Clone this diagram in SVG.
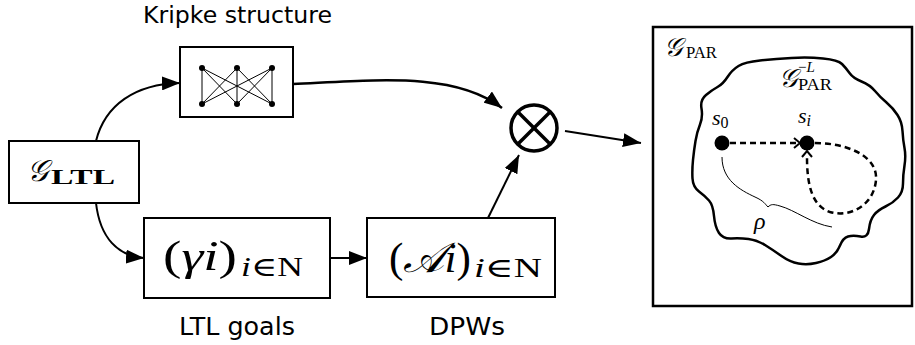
<svg xmlns="http://www.w3.org/2000/svg" width="915" height="345" viewBox="0 0 915 345">
<style>
.box{fill:#fff;stroke:#000;stroke-width:2}
.ln{fill:none;stroke:#000;stroke-width:2}
.sans{font-family:"DejaVu Sans",sans-serif;fill:#000}
.math{font-family:"Liberation Serif","DejaVu Serif",serif;fill:#000}
.it{font-style:italic}
.dash{fill:none;stroke:#000;stroke-width:2.5;stroke-dasharray:6 4}
.kl{stroke:#000;stroke-width:1}
</style>
<defs>
<marker id="ah" markerUnits="userSpaceOnUse" markerWidth="18" markerHeight="14" refX="18" refY="7" orient="auto">
<path d="M0,0 L18,7 L0,14 z" fill="#000"/>
</marker>
</defs>
<rect width="915" height="345" fill="#fff"/>
<g id="connectors">
<path class="ln" d="M96,141 C105,105 135,84 180,83" marker-end="url(#ah)"/>
<path class="ln" d="M96,203 C100,238 118,256 144,258" marker-end="url(#ah)"/>
<path class="ln" d="M330,258 L367,258" marker-end="url(#ah)"/>
<path class="ln" style="stroke-width:2.5" d="M293,84 C380,80 455,72 502,108" marker-end="url(#ah)"/>
<path class="ln" d="M488,218 L519,155" marker-end="url(#ah)"/>
<path class="ln" d="M565,131 L641,143" marker-end="url(#ah)"/>
</g>
<g id="kripke">
<text class="sans" x="237.5" y="23" font-size="23" text-anchor="middle" textLength="189" lengthAdjust="spacingAndGlyphs">Kripke structure</text>
<rect class="box" x="180" y="47" width="113" height="70"/>
<g class="kl">
<line x1="202" y1="68" x2="202" y2="104"/><line x1="202" y1="68" x2="237" y2="104"/><line x1="202" y1="68" x2="272" y2="104"/>
<line x1="237" y1="68" x2="202" y2="104"/><line x1="237" y1="68" x2="237" y2="104"/><line x1="237" y1="68" x2="272" y2="104"/>
<line x1="272" y1="68" x2="202" y2="104"/><line x1="272" y1="68" x2="237" y2="104"/><line x1="272" y1="68" x2="272" y2="104"/>
</g>
<g fill="#000">
<circle cx="202" cy="68" r="3"/><circle cx="237" cy="68" r="3"/><circle cx="272" cy="68" r="3"/>
<circle cx="202" cy="104" r="3"/><circle cx="237" cy="104" r="3"/><circle cx="272" cy="104" r="3"/>
</g>
</g>
<g id="gltl">
<rect class="box" x="9" y="141" width="130" height="62"/>
<text class="math it" x="27" y="181" font-size="30">𝒢</text>
<text class="math" x="51" y="184" font-size="22" font-weight="bold" textLength="64" lengthAdjust="spacingAndGlyphs">LTL</text>
</g>
<g id="goals">
<rect class="box" x="144" y="218" width="186" height="80"/>
<text class="math" x="163" y="270" font-size="42" textLength="74" lengthAdjust="spacingAndGlyphs">(<tspan class="it">γi</tspan>)</text>
<text class="math" x="241" y="276" font-size="27" textLength="62" lengthAdjust="spacingAndGlyphs"><tspan class="it">i</tspan>∈N</text>
<text class="sans" x="237" y="335" font-size="24" text-anchor="middle" textLength="116" lengthAdjust="spacingAndGlyphs">LTL goals</text>
</g>
<g id="dpws">
<rect class="box" x="367" y="218" width="188" height="79"/>
<text class="math" x="389" y="272" font-size="42" textLength="82" lengthAdjust="spacingAndGlyphs">(<tspan class="it">𝒜i</tspan>)</text>
<text class="math" x="474" y="277" font-size="27" textLength="68" lengthAdjust="spacingAndGlyphs"><tspan class="it">i</tspan>∈N</text>
<text class="sans" x="467" y="335" font-size="24" text-anchor="middle" textLength="76" lengthAdjust="spacingAndGlyphs">DPWs</text>
</g>
<g id="product">
<circle cx="534" cy="128" r="23" fill="#fff" stroke="#000" stroke-width="3.5"/>
<line x1="517.7" y1="111.7" x2="550.3" y2="144.3" stroke="#000" stroke-width="3.5"/>
<line x1="550.3" y1="111.7" x2="517.7" y2="144.3" stroke="#000" stroke-width="3.5"/>
</g>
<g id="gpar">
<rect x="653" y="27" width="259" height="279" fill="none" stroke="#000" stroke-width="2.5"/>
<text class="math it" x="664" y="56" font-size="26">𝒢</text>
<text class="math" x="686" y="58" font-size="17" textLength="31" lengthAdjust="spacingAndGlyphs">PAR</text>
<path fill="none" stroke="#000" stroke-width="2.5" d="M706,95 Q712,90 717.5,87 Q723,84 727.5,77 Q732,70 738.5,66 Q745,62 760,60.5 Q775,59 791.5,58 Q808,57 823,58.5 Q838,60 842,64 Q846,68 849.5,73 Q853,78 861.5,81.5 Q870,85 875,91 Q880,97 886.5,102.5 Q893,108 897.5,115 Q902,122 902.5,131 Q903,140 904.5,148 Q906,156 904.5,165.5 Q903,175 903,183.5 Q903,192 898,197.5 Q893,203 885.5,206.5 Q878,210 874,215 Q870,220 869,229 Q868,238 860.5,236.5 Q853,235 848,236.5 Q843,238 840,245.5 Q837,253 831,257 Q825,261 816,263 Q807,265 798.5,263.5 Q790,262 781.5,256 Q773,250 765,245 Q757,240 748.5,239 Q740,238 731.5,238.5 Q723,239 719,233 Q715,227 714,216 Q713,205 709,200.5 Q705,196 699,191.5 Q693,187 692.5,178.5 Q692,170 693,160 Q694,150 695.5,141 Q697,132 700,124.5 Q703,117 701.5,108.5 Q700,100 706,95 Z"/>
<text class="math it" x="779" y="87" font-size="26">𝒢</text>
<text class="math" x="798" y="72" font-size="15">−<tspan class="it">L</tspan></text>
<text class="math" x="798" y="90" font-size="17" textLength="34" lengthAdjust="spacingAndGlyphs">PAR</text>
</g>
<g id="path-elements">
<path class="dash" d="M730,143 L798,143"/>
<path fill="none" stroke="#000" stroke-width="2" d="M794,138 L800,143 L794,148"/>
<path class="dash" d="M815,143 C845,143 878,155 876,180 C874,205 850,218 830,212 C812,206 807,185 807,157"/>
<path fill="none" stroke="#000" stroke-width="2" d="M802,157 L807,151 L812,157"/>
<circle cx="722" cy="143" r="7.5" fill="#000"/>
<circle cx="807" cy="143" r="7.5" fill="#000"/>
<text class="math" x="712" y="125" font-size="22"><tspan class="it">s</tspan><tspan font-size="16" dy="3">0</tspan></text>
<text class="math" x="798" y="123" font-size="22"><tspan class="it">s</tspan><tspan class="it" font-size="16" dy="3">i</tspan></text>
<path fill="none" stroke="#000" stroke-width="1" d="M722,157 C722,180 740,190 755,197 C764,201 765,204 768,207 C771,204 773,204 780,206 C795,210 812,224 832,227"/>
<text class="math it" x="754" y="229" font-size="24">ρ</text>
</g>
</svg>
